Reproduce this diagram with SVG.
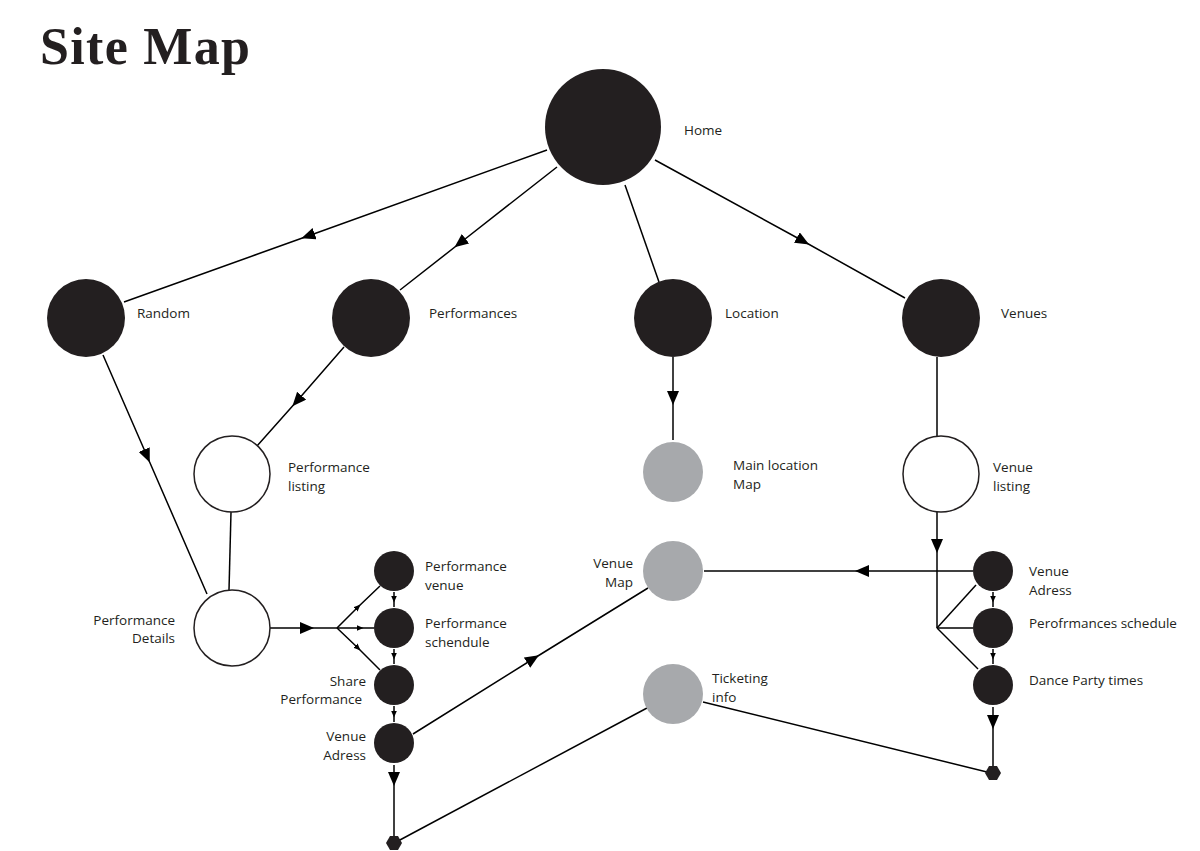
<svg xmlns="http://www.w3.org/2000/svg" width="1200" height="851" viewBox="0 0 1200 851">
<defs>
<marker id="big" viewBox="0 0 14 12" refX="7" refY="6" markerWidth="14" markerHeight="12" markerUnits="userSpaceOnUse" orient="auto"><path d="M0,0 L14,6 L0,12 Z" fill="#000"/></marker>
<marker id="small" viewBox="0 0 7 6" refX="3.5" refY="3" markerWidth="7" markerHeight="6" markerUnits="userSpaceOnUse" orient="auto"><path d="M0,0 L7,3 L0,6 Z" fill="#000"/></marker>
</defs>
<style>
.t{font-family:"Open Sans","Noto Sans",sans-serif;font-size:13.5px;fill:#231f20}
.e{text-anchor:end}
.blk{fill:#231f20}
.wht{fill:#fff;stroke:#231f20;stroke-width:1.5}
.gry{fill:#a7a9ac}
.ln{fill:none;stroke:#000;stroke-width:1.5}
.a{marker-mid:url(#big)}
.s{marker-mid:url(#small)}
</style>
<rect width="1200" height="851" fill="#fff"/>
<text x="40" y="64" font-family="Liberation Serif,serif" font-weight="bold" font-size="52" fill="#231f20" textLength="210">Site Map</text>
<g id="connectors">
<path class="ln a" d="M547,150 L308,236 L124,302"/>
<path class="ln a" d="M557,167 L460,243 L400,290"/>
<path class="ln" d="M625,185 L659,282"/>
<path class="ln a" d="M655,160 L803,241 L905,298"/>
<path class="ln a" d="M103,355 L147,456 L207,594"/>
<path class="ln a" d="M344,347 L297,401 L257,446"/>
<path class="ln" d="M231,512 L229,590"/>
<path class="ln a" d="M673,357 L673,398 L673,440"/>
<path class="ln" d="M937,357 L937,436"/>
<path class="ln a" d="M937,512 L937,546 L937,628"/>
<path class="ln" d="M937,628 L976,585"/>
<path class="ln" d="M937,628 L973,628"/>
<path class="ln" d="M937,628 L978,669"/>
<path class="ln a" d="M973,571 L862,571 L704,571"/>
<path class="ln s" d="M993,592 L993,599 L993,607"/>
<path class="ln s" d="M993,649 L993,656 L993,664"/>
<path class="ln a" d="M993,707 L993,722 L993,766"/>
<path class="ln" d="M703,702 L987,772"/>
<path class="ln" d="M647,708 L398,841"/>
<path class="ln a" d="M413,734 L533,659 L648,588"/>
<path class="ln a" d="M394,765 L394,779 L394,836"/>
<path class="ln a" d="M270,628 L307,628 L337,628"/>
<path class="ln s" d="M337,628 L358,607 L380,586"/>
<path class="ln s" d="M337,628 L360,628 L374,628"/>
<path class="ln s" d="M337,628 L358,648 L380,670"/>
<path class="ln s" d="M394,592 L394,599 L394,607"/>
<path class="ln s" d="M394,649 L394,656 L394,664"/>
<path class="ln s" d="M394,706 L394,714 L394,722"/>
</g>
<g id="home"><circle class="blk" cx="603" cy="127" r="58"/><text class="t" x="684" y="135">Home</text></g>
<g id="random"><circle class="blk" cx="86" cy="318" r="39"/><text class="t" x="137" y="318">Random</text></g>
<g id="performances"><circle class="blk" cx="371" cy="318" r="39"/><text class="t" x="429" y="318">Performances</text></g>
<g id="location"><circle class="blk" cx="673" cy="318" r="39"/><text class="t" x="725" y="318">Location</text></g>
<g id="venues"><circle class="blk" cx="941" cy="318" r="39"/><text class="t" x="1001" y="318">Venues</text></g>
<g id="performance-listing"><circle class="wht" cx="232" cy="474" r="38"/><text class="t" x="288" y="472">Performance</text><text class="t" x="288" y="491">listing</text></g>
<g id="main-location-map"><circle class="gry" cx="673" cy="472" r="30"/><text class="t" x="733" y="470">Main location</text><text class="t" x="733" y="489">Map</text></g>
<g id="venue-listing"><circle class="wht" cx="941" cy="474" r="38"/><text class="t" x="993" y="472">Venue</text><text class="t" x="993" y="491">listing</text></g>
<g id="performance-details"><circle class="wht" cx="232" cy="628" r="38"/><text class="t e" x="175" y="625">Performance</text><text class="t e" x="175" y="643">Details</text></g>
<g id="venue-map"><circle class="gry" cx="673" cy="571" r="30"/><text class="t e" x="633" y="568">Venue</text><text class="t e" x="633" y="587">Map</text></g>
<g id="ticketing-info"><circle class="gry" cx="673" cy="694" r="30"/><text class="t" x="712" y="683">Ticketing</text><text class="t" x="712" y="702">info</text></g>
<g id="performance-venue"><circle class="blk" cx="394" cy="571" r="20"/><text class="t" x="425" y="571">Performance</text><text class="t" x="425" y="590">venue</text></g>
<g id="performance-schendule"><circle class="blk" cx="394" cy="628" r="20"/><text class="t" x="425" y="628">Performance</text><text class="t" x="425" y="647">schendule</text></g>
<g id="share-performance"><circle class="blk" cx="394" cy="685" r="20"/><text class="t e" x="366" y="686">Share</text><text class="t e" x="362" y="704">Performance</text></g>
<g id="venue-adress-left"><circle class="blk" cx="394" cy="743" r="20"/><text class="t e" x="366" y="741">Venue</text><text class="t e" x="366" y="760">Adress</text></g>
<g id="venue-adress-right"><circle class="blk" cx="993" cy="571" r="20"/><text class="t" x="1029" y="576">Venue</text><text class="t" x="1029" y="595">Adress</text></g>
<g id="performances-schedule"><circle class="blk" cx="993" cy="628" r="20"/><text class="t" x="1029" y="628">Perofrmances schedule</text></g>
<g id="dance-party-times"><circle class="blk" cx="993" cy="685" r="20"/><text class="t" x="1029" y="685">Dance Party times</text></g>
<g id="end-left"><polygon class="blk" points="386,843 390,836 398,836 402,843 398,850 390,850"/></g>
<g id="end-right"><polygon class="blk" points="985,773 989,766 997,766 1001,773 997,780 989,780"/></g>
</svg>
